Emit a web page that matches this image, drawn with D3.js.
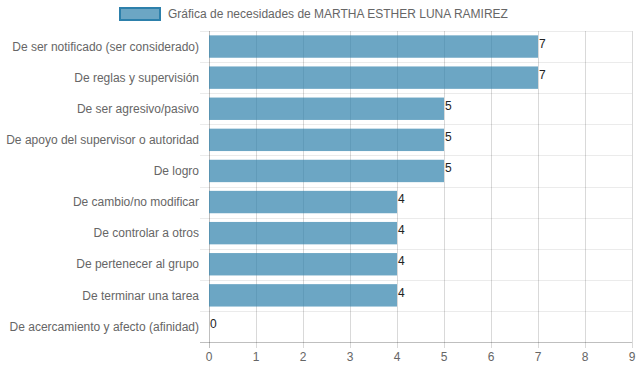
<!DOCTYPE html>
<html><head><meta charset="utf-8">
<script src="https://cdn.jsdelivr.net/npm/d3@7"></script>
<style>body{margin:0;background:#fff;}svg{display:block;font-family:"Liberation Sans",Arial,sans-serif;}</style>
</head><body>
<svg id="c" width="639" height="372"></svg>
<script>
const categories = ["De ser notificado (ser considerado)","De reglas y supervisión","De ser agresivo/pasivo","De apoyo del supervisor o autoridad","De logro","De cambio/no modificar","De controlar a otros","De pertenecer al grupo","De terminar una tarea","De acercamiento y afecto (afinidad)"];
const values = [7,7,5,5,5,4,4,4,4,0];
const xTicks = [0,1,2,3,4,5,6,7,8,9];
const seriesName = "Gráfica de necesidades de MARTHA ESTHER LUNA RAMIREZ";

const svg = d3.select("#c");
const m = {left:209, right:632, top:31, bottom:342};
const x = d3.scaleLinear().domain([0,9]).range([m.left, m.right]);
const y = d3.scaleBand().domain(categories).range([m.top, m.bottom]);
const barH = y.bandwidth()*0.72;

// horizontal grid lines (band boundaries)
const bounds = categories.map(c=>y(c)).concat([m.bottom]);
svg.append("g").selectAll("line").data(bounds.slice(0,-1)).join("line")
  .attr("x1", m.left-9).attr("x2", m.right)
  .attr("y1", d=>Math.round(d)+0.5).attr("y2", d=>Math.round(d)+0.5)
  .attr("stroke","rgba(0,0,0,0.08)").attr("stroke-width",1);
// vertical grid lines
svg.append("g").selectAll("line").data(xTicks).join("line")
  .attr("x1", d=>Math.round(x(d))+0.5).attr("x2", d=>Math.round(x(d))+0.5)
  .attr("y1", m.top).attr("y2", m.bottom+6)
  .attr("stroke", d=>d===0?"rgba(0,0,0,0.25)":"rgba(0,0,0,0.15)").attr("stroke-width",1);
// bottom axis line
svg.append("line").attr("x1", m.left-9).attr("x2", m.right)
  .attr("y1", m.bottom+0.5).attr("y2", m.bottom+0.5)
  .attr("stroke","rgba(0,0,0,0.25)");

// bars
svg.append("g").selectAll("rect").data(values).join("rect")
  .attr("x", x(0)).attr("y", (d,i)=>y(categories[i])+(y.bandwidth()-barH)/2)
  .attr("width", d=>x(d)-x(0)).attr("height", barH)
  .attr("fill","rgba(45,128,171,0.7)");

// value labels
svg.append("g").selectAll("text").data(values).join("text")
  .attr("x", d=>x(d)+1).attr("y", (d,i)=>y(categories[i])+y.bandwidth()/2)
  .attr("dy","0.1em").attr("font-size",12).attr("fill","#222")
  .text(d=>d);

// y labels
svg.append("g").selectAll("text").data(categories).join("text")
  .attr("x", m.left-10).attr("y", d=>y(d)+y.bandwidth()/2)
  .attr("dy","0.35em").attr("text-anchor","end").attr("font-size",12).attr("fill","#666")
  .text(d=>d);

// x tick labels
svg.append("g").selectAll("text").data(xTicks).join("text")
  .attr("x", d=>x(d)).attr("y", 357).attr("dy","0.35em")
  .attr("text-anchor","middle").attr("font-size",12).attr("fill","#666")
  .text(d=>d);

// legend
svg.append("rect").attr("x",120).attr("y",8).attr("width",40).attr("height",12)
  .attr("fill","rgba(45,128,171,0.7)").attr("stroke","rgb(45,128,171)").attr("stroke-width",2);
svg.append("text").attr("x",168).attr("y",14).attr("dy","0.35em")
  .attr("font-size",12).attr("fill","#666").text(seriesName);
</script>
</body></html>
